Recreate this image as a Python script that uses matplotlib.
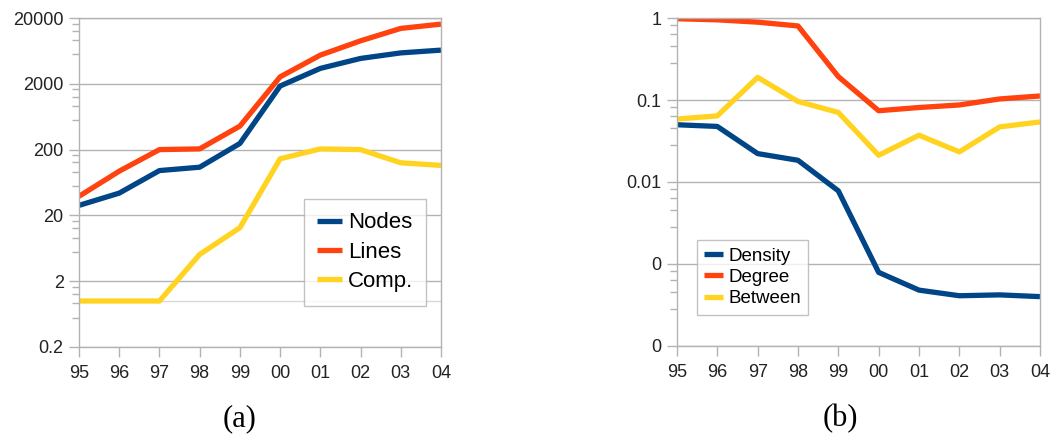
import numpy as np
import matplotlib
matplotlib.use("Agg")
import matplotlib.pyplot as plt

years = ["95", "96", "97", "98", "99", "00", "01", "02", "03", "04"]

# panel (a)
nodes = [28.4, 43.6, 96, 108, 248, 1850, 3430, 4860, 5900, 6500]
lines = [39, 94, 200, 205, 455, 2550, 5460, 9000, 13900, 16150]
comp = [1.0, 1.0, 1.0, 5.1, 13, 145, 205, 200, 126, 115]

# panel (b)
density = [0.0499, 0.0476, 0.0222, 0.0184, 0.0078, 0.00079, 0.00048, 0.00041, 0.00042, 0.0004]
degree = [0.98, 0.95, 0.89, 0.80, 0.193, 0.074, 0.081, 0.087, 0.103, 0.112]
between = [0.0586, 0.064, 0.189, 0.096, 0.0705, 0.0212, 0.0372, 0.0233, 0.047, 0.054]

ticks_a = [0.2, 2, 20, 200, 2000, 20000]
labels_a = ["0.2", "2", "20", "200", "2000", "20000"]
ticks_b = [0.0001, 0.001, 0.01, 0.1, 1]
labels_b = ["0", "0", "0.01", "0.1", "1"]

blue = "#004586"
red = "#ff420e"
yellow = "#ffd320"
grey = "#b3b3b3"

plt.rcParams["font.family"] = ["Liberation Sans", "DejaVu Sans"]

fig = plt.figure(figsize=(10.52, 4.34), dpi=100)
ax1 = fig.add_axes([0.0751, 0.2005, 0.3441, 0.758])
ax2 = fig.add_axes([0.6435, 0.2028, 0.3451, 0.7557])


def style(ax, majors, labels):
    x = np.arange(len(years))
    ax.set_yscale("log")
    ax.set_xlim(0, len(years) - 1)
    ax.set_ylim(majors[0], majors[-1])
    ax.set_xticks(x)
    ax.set_xticklabels(years)
    ax.set_yticks(majors)
    ax.set_yticklabels(labels)
    # minor ticks: each decade split into 5 equal steps
    minors = []
    for m in majors[:-1]:
        minors += [m * (1 + 1.8 * j) for j in range(1, 5)]
    ax.set_yticks(minors, minor=True)
    ax.yaxis.set_minor_formatter(plt.NullFormatter())
    ax.tick_params(axis="both", which="major", length=7, color=grey,
                   labelsize=13, labelcolor="#222222", width=1)
    ax.tick_params(axis="x", pad=6)
    ax.tick_params(axis="y", pad=4)
    ax.tick_params(axis="y", which="minor", length=5, color=grey, width=1)
    ax.grid(True, axis="y", which="major", color=grey, linewidth=1)
    ax.set_axisbelow(True)
    for s in ax.spines.values():
        s.set_color(grey)
        s.set_linewidth(1)


x = np.arange(len(years))
style(ax1, ticks_a, labels_a)
ax1.axhline(1, color="#d9d9d9", linewidth=1, zorder=0)
ax1.plot(x, nodes, color=blue, lw=3.8, label="Nodes", solid_capstyle="butt")
ax1.plot(x, lines, color=red, lw=3.8, label="Lines", solid_capstyle="butt")
ax1.plot(x, comp, color=yellow, lw=3.8, label="Comp.", solid_capstyle="butt")
leg1 = ax1.legend(loc="upper left", bbox_to_anchor=(0.6215, 0.45), fontsize=16,
                  frameon=True, fancybox=False, edgecolor=grey, handlelength=1.1,
                  handletextpad=0.27, borderpad=0.6, labelspacing=0.38,
                  borderaxespad=0)
leg1.get_frame().set_linewidth(1)

style(ax2, ticks_b, labels_b)
ax2.plot(x, density, color=blue, lw=3.8, label="Density", solid_capstyle="butt")
ax2.plot(x, degree, color=red, lw=3.8, label="Degree", solid_capstyle="butt")
ax2.plot(x, between, color=yellow, lw=3.8, label="Between", solid_capstyle="butt")
leg2 = ax2.legend(loc="upper left", bbox_to_anchor=(0.055, 0.323), fontsize=13.5,
                  frameon=True, fancybox=False, edgecolor=grey, handlelength=1.0,
                  handletextpad=0.26, borderpad=0.4, labelspacing=0.22,
                  borderaxespad=0)
leg2.get_frame().set_linewidth(1)

fig.text(240 / 1052, 1 - 419 / 434, "(a)", ha="center", va="center",
         fontsize=22, family=["Liberation Serif", "DejaVu Serif"])
fig.text(840 / 1052, 1 - 419 / 434, "(b)", ha="center", va="center",
         fontsize=22, family=["Liberation Serif", "DejaVu Serif"])

fig.savefig("out.png", dpi=100)
